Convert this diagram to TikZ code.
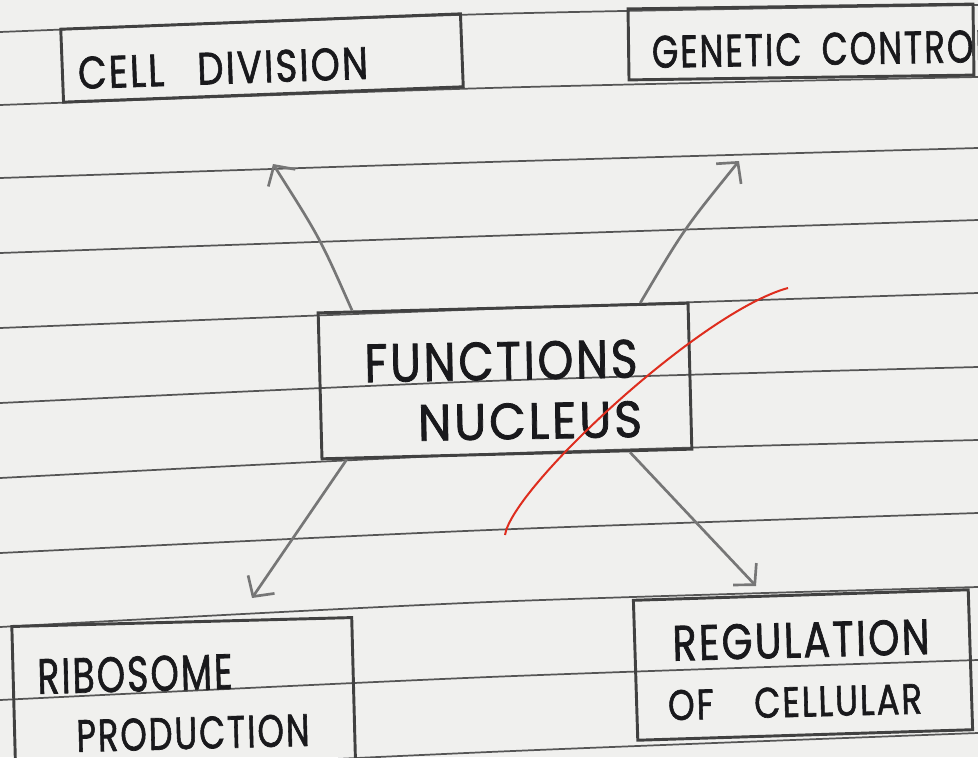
\documentclass[tikz,border=0pt]{standalone}
\usepackage{fontspec}
\usepackage{graphicx}
\newfontfamily\hand[LetterSpace=6,FakeBold=1.6]{Poppins}
\usetikzlibrary{arrows.meta,calc}
\definecolor{paper}{RGB}{240,240,238}
\definecolor{rulec}{RGB}{85,85,85}
\definecolor{boxc}{RGB}{65,65,65}
\definecolor{arr}{RGB}{118,118,118}
\definecolor{ink}{RGB}{25,25,28}
\definecolor{redpen}{RGB}{222,45,30}
\newcommand\hw[3]{\resizebox{\dimexpr #1pt*3/4\relax}{\dimexpr #2pt*3/4\relax}{\hand #3}}
\begin{document}
\begin{tikzpicture}[x=0.75pt,y=-0.75pt,
  ruled/.style={draw=rulec,line width=1.3pt},
  box/.style={draw=boxc,line width=2.2pt,rectangle,inner sep=0pt},
  txt/.style={text=ink,inner sep=0pt},
  arrowc/.style={draw=arr,line width=2pt,-{Straight Barb[length=11pt,width=24pt]}},
  redline/.style={draw=redpen,line width=1.5pt}]
\fill[paper] (0,0) rectangle (978,757);
\useasboundingbox (0,0) rectangle (978,757);
\clip (0,0) rectangle (978,757);
% ruled lines
\foreach \ya/\yb/\yc in {32/14/5, 105/88/77, 178/162/148, 253/236/220, 328/309/293, 403/381/367, 478/454/440, 553/530/513, 627/602/587, 700/677/660, 775/752/733}
  \draw[ruled] plot[smooth] coordinates {(0,\ya) (489,\yb) (978,\yc)};
% boxes
\node[box,minimum width=300pt,minimum height=54.75pt,rotate=2.2] (cd) at (262,58) {};
\node[box,minimum width=258.75pt,minimum height=53.25pt,rotate=0.8] (gc) at (801,42) {};
\node[box,minimum width=277.5pt,minimum height=109.5pt,rotate=1.5] (fn) at (505,381) {};
\node[box,minimum width=255pt,minimum height=127.5pt,rotate=1.5] (rp) at (184,707) {};
\node[box,minimum width=251.25pt,minimum height=105pt,rotate=1.8] (rc) at (803,665) {};
% texts
\node[txt,rotate=2] (t1) at (223,68) {\hw{290}{32}{CELL\hspace{0.9em}DIVISION}};
\node[txt,rotate=1] (t2) at (821,49) {\hw{338}{32}{GENETIC\hspace{0.6em}CONTROL}};
\node[txt,rotate=1] (t3) at (501,361) {\hw{273}{38}{FUNCTIONS}};
\node[txt,rotate=1] (t4) at (530,421) {\hw{224}{36}{NUCLEUS}};
\node[txt,rotate=1.5] (t5) at (135,674) {\hw{195}{35}{RIBOSOME}};
\node[txt,rotate=1.5] (t6) at (193,733) {\hw{233}{32}{PRODUCTION}};
\node[txt,rotate=1.5] (t7) at (801,640) {\hw{257}{35}{REGULATION}};
\node[txt,rotate=1.5] (t8) at (795,702) {\hw{254}{30}{OF\hspace{1.2em}CELLULAR}};
% arrow tips
\coordinate (tip1) at (273,164);
\coordinate (tip2) at (739,161);
\coordinate (tip3) at (252,598);
\coordinate (tip4) at (756,586);
\draw[arrowc] ($(fn.north west)!0.095!(fn.north east)$) .. controls (320,238) .. (tip1);
\draw[arrowc] ($(fn.north west)!0.868!(fn.north east)$) .. controls (684,229) .. (tip2);
\draw[arrowc] ($(fn.south west)!0.07!(fn.south east)$) -- (tip3);
\draw[arrowc] ($(fn.south west)!0.83!(fn.south east)$) -- (tip4);
% red pen stroke
\coordinate (r1) at (788,288);
\coordinate (r2) at (505,535);
\draw[redline] (r1) .. controls (700,312) and (512,488) .. (r2);
\end{tikzpicture}
\end{document}
